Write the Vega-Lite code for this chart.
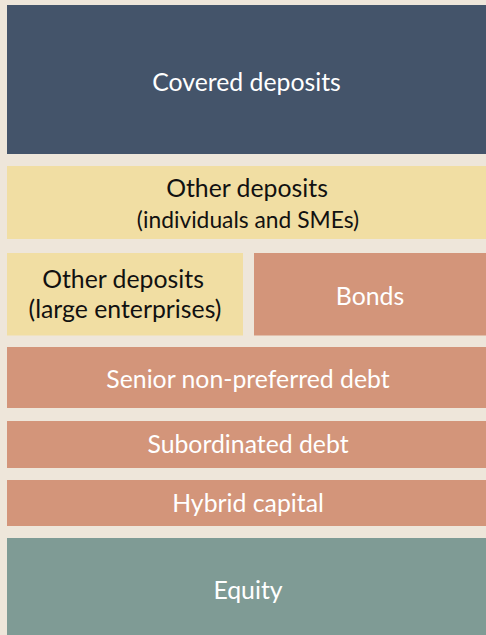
{
  "$schema": "https://vega.github.io/schema/vega-lite/v6.json",
  "width": 486,
  "height": 635,
  "padding": 0,
  "autosize": {"type": "none"},
  "background": "#EEE6DA",
  "config": {"view": {"stroke": null}},
  "resolve": {"scale": {"color": "independent"}},
  "datasets": {
    "boxes": [
      {"name": "Covered deposits", "x0": 7, "x1": 486, "y0": 5, "y1": 154, "kind": "blue"},
      {"name": "Other deposits (individuals and SMEs)", "x0": 7, "x1": 486, "y0": 166, "y1": 239, "kind": "yellow"},
      {"name": "Other deposits (large enterprises)", "x0": 7, "x1": 243, "y0": 253, "y1": 335.5, "kind": "yellow"},
      {"name": "Bonds", "x0": 254, "x1": 486, "y0": 253, "y1": 335.5, "kind": "salmon"},
      {"name": "Senior non-preferred debt", "x0": 7, "x1": 486, "y0": 347, "y1": 408, "kind": "salmon"},
      {"name": "Subordinated debt", "x0": 7, "x1": 486, "y0": 421, "y1": 468, "kind": "salmon"},
      {"name": "Hybrid capital", "x0": 7, "x1": 486, "y0": 480, "y1": 526, "kind": "salmon"},
      {"name": "Equity", "x0": 7, "x1": 486, "y0": 538, "y1": 635, "kind": "teal"}
    ],
    "labels": [
      {"text": "Covered deposits", "x": 246.5, "y": 83.5, "size": 24.8, "tone": "light"},
      {"text": "Other deposits", "x": 247, "y": 189.5, "size": 24.8, "tone": "dark"},
      {"text": "(individuals and SMEs)", "x": 248, "y": 220.5, "size": 22.8, "tone": "dark"},
      {"text": "Other deposits", "x": 123, "y": 280.5, "size": 24.8, "tone": "dark"},
      {"text": "(large enterprises)", "x": 125, "y": 310.5, "size": 24.8, "tone": "dark"},
      {"text": "Bonds", "x": 370, "y": 297.5, "size": 24.8, "tone": "light"},
      {"text": "Senior non-preferred debt", "x": 248, "y": 380.5, "size": 24.8, "tone": "light"},
      {"text": "Subordinated debt", "x": 248, "y": 445.5, "size": 24.8, "tone": "light"},
      {"text": "Hybrid capital", "x": 248, "y": 504.5, "size": 24.8, "tone": "light"},
      {"text": "Equity", "x": 248, "y": 591.5, "size": 24.8, "tone": "light"}
    ]
  },
  "layer": [
    {
      "data": {"name": "boxes"},
      "mark": {"type": "rect"},
      "encoding": {
        "x": {"field": "x0", "type": "quantitative", "scale": {"domain": [0, 486], "nice": false, "zero": false}, "axis": null},
        "x2": {"field": "x1"},
        "y": {"field": "y0", "type": "quantitative", "scale": {"domain": [0, 635], "nice": false, "zero": false, "reverse": true}, "axis": null},
        "y2": {"field": "y1"},
        "color": {"field": "kind", "type": "nominal", "legend": null,
          "scale": {"domain": ["blue", "yellow", "salmon", "teal"], "range": ["#44546A", "#F1DEA3", "#D3957A", "#7F9B95"]}}
      }
    },
    {
      "data": {"name": "labels"},
      "mark": {"type": "text", "font": "Lato", "align": "center", "baseline": "middle"},
      "encoding": {
        "x": {"field": "x", "type": "quantitative"},
        "y": {"field": "y", "type": "quantitative"},
        "text": {"field": "text"},
        "size": {"field": "size", "type": "quantitative", "scale": null},
        "color": {"field": "tone", "type": "nominal", "legend": null,
          "scale": {"domain": ["light", "dark"], "range": ["#FFFFFF", "#111111"]}}
      }
    }
  ]
}
